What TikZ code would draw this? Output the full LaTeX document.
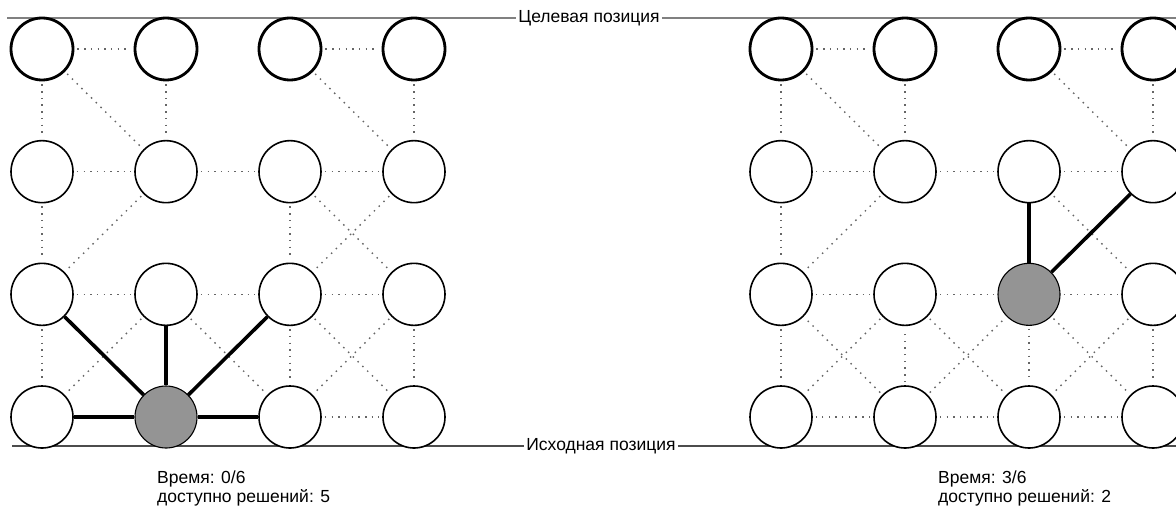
\documentclass[tikz,border=0pt]{standalone}
\usepackage{fontspec}
\setmainfont{Liberation Sans}

\tikzset{
  spot/.style={circle, draw=black, fill=white, minimum size=62pt, inner sep=0pt, line width=1.6pt},
  row1/.style={line width=2.8pt},
  nowL24/.style={fill=black!42, line width=1.1pt},
  nowR33/.style={fill=black!42, line width=1.1pt},
  link/.style={draw=black!60, line width=1.4pt, dash pattern=on 1.5pt off 5.2pt, shorten <=3pt, shorten >=3pt},
  move/.style={draw=black, line width=3.6pt},
  lbl/.style={font=\fontsize{17.5}{18.5}\selectfont, inner sep=2pt},
}

\begin{document}
\begin{tikzpicture}[x=1pt, y=-1pt]
  \useasboundingbox (0,0) rectangle (1176,508);

  % goal and start lines
  \coordinate (topL) at (7,18);
  \coordinate (topR) at (1180,18);
  \coordinate (botL) at (12,446);
  \coordinate (botR) at (1180,446);
  \node[lbl] (goal) at (589,18) {Целевая позиция};
  \node[lbl] (start) at (601,446) {Исходная позиция};
  \draw[black!50, line width=2.2pt] (topL) -- (goal) -- (topR);
  \draw[black!70, line width=1.4pt] (botL) -- (start) -- (botR);

  % positions, L = left grid, R = right grid
  \foreach \g/\dx in {L/0, R/739}
    \foreach \c in {1,...,4}
      \foreach \r in {1,...,4}
        \node[spot, row\r/.try, now\g\c\r/.try] (\g\c\r)
          at ({\dx+42+124*(\c-1)}, {49+122.67*(\r-1)}) {};

  % transitions shared by both grids
  \foreach \g in {L,R}
    \foreach \a/\b in {11/21, 31/41, 11/12, 21/22, 41/42, 11/22, 31/42,
                       12/22, 22/32, 32/42, 12/13, 22/13, 32/43,
                       13/23, 23/33, 33/43, 13/14, 33/34, 43/44,
                       23/14, 23/34, 33/44, 43/34, 34/44}
      \draw[link] (\g\a) -- (\g\b);

  % left: time 0
  \foreach \a in {13,23,33,14,34}
    \draw[move] (L24) -- (L\a);
  \foreach \a in {32,42}
    \draw[link] (L\a) -- (L33);

  % right: time 3
  \foreach \a in {32,42}
    \draw[move] (R33) -- (R\a);
  \foreach \a in {13,23,33,14,34}
    \draw[link] (R24) -- (R\a);

  \node[lbl, anchor=north west, align=left] (infoL) at (155,469)
    {Время: 0/6\\доступно решений: 5};
  \node[lbl, anchor=north west, align=left] (infoR) at (936,469)
    {Время: 3/6\\доступно решений: 2};
\end{tikzpicture}
\end{document}
